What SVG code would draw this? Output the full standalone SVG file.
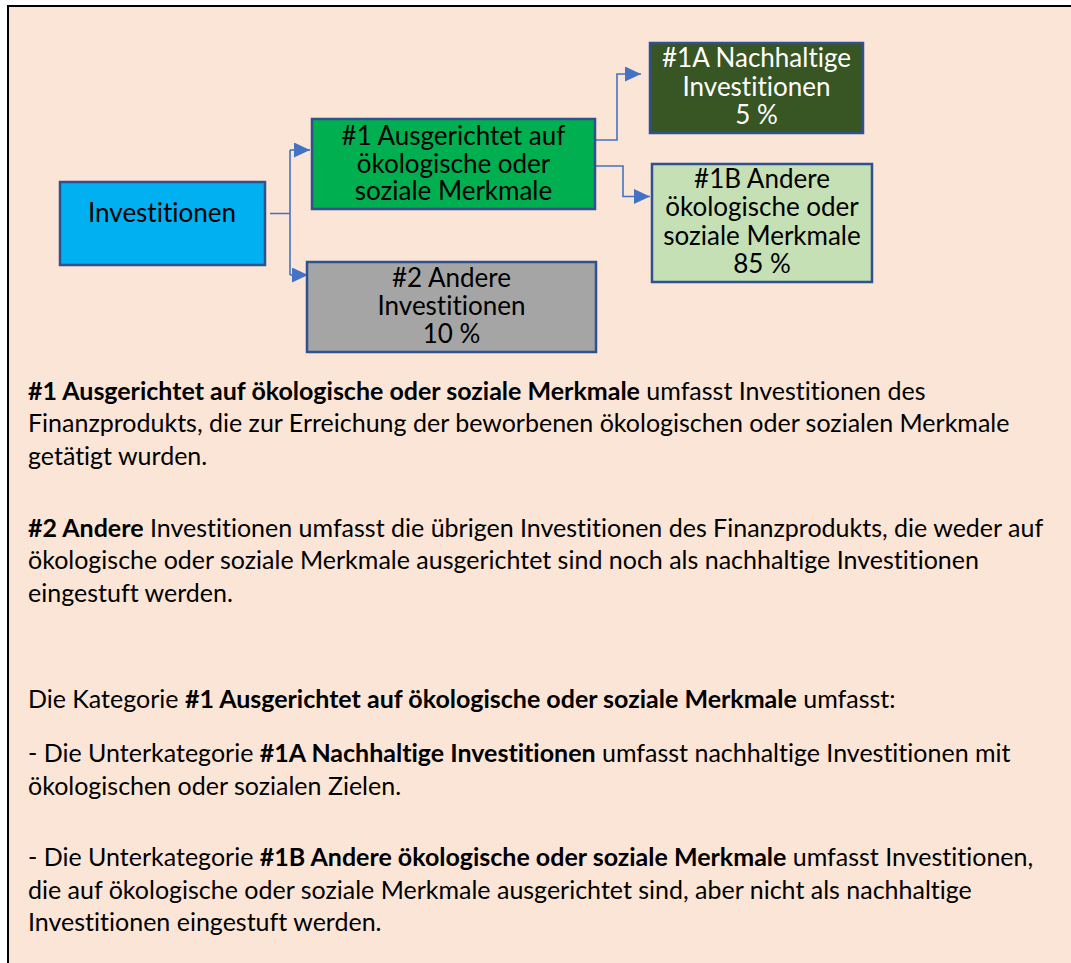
<svg xmlns="http://www.w3.org/2000/svg" width="1071" height="963" viewBox="0 0 1071 963">
<style>
text{font-variant-ligatures:none;font-feature-settings:"liga" 0,"clig" 0}
.box{stroke:#2F528F;stroke-width:2.5}
.bt{font-family:Lato,"Open Sans","Liberation Sans",sans-serif;font-size:26px;text-anchor:middle;fill:#000}
.wt{fill:#fff}
.body{font-family:Lato,"Open Sans","Liberation Sans",sans-serif;font-size:25px;fill:#000}
.b{font-weight:bold}
.conn{fill:none;stroke:#4472C4;stroke-width:1.6}
</style>
<defs>
<marker id="arr" markerUnits="userSpaceOnUse" markerWidth="16" markerHeight="15" refX="16" refY="7.5" orient="auto">
<path d="M0,0 L16,7.5 L0,15 z" fill="#4472C4"/>
</marker>
</defs>
<rect x="8" y="6" width="1080" height="980" fill="#FBE5D6" stroke="#000" stroke-width="2"/>
<g id="connectors">
<path class="conn" d="M270,213.5 H290 M290,150 V275"/>
<path class="conn" d="M290,150 H310" marker-end="url(#arr)"/>
<path class="conn" d="M290,275 H308" marker-end="url(#arr)"/>
<path class="conn" d="M595,140 H617 V74 H641" marker-end="url(#arr)"/>
<path class="conn" d="M595,166 H623 V196.5 H650" marker-end="url(#arr)"/>
</g>
<g id="n-invest">
<rect class="box" x="60" y="182" width="205" height="83" fill="#00B0F0"/>
<text class="bt" x="162" y="222">Investitionen</text>
</g>
<g id="n-1">
<rect class="box" x="312" y="119" width="283" height="90" fill="#00B050"/>
<text class="bt" x="453.5" y="145">#1 Ausgerichtet auf</text>
<text class="bt" x="453.5" y="172.5">ökologische oder</text>
<text class="bt" x="453.5" y="200">soziale Merkmale</text>
</g>
<g id="n-2">
<rect class="box" x="307" y="262" width="289" height="90" fill="#A5A5A5"/>
<text class="bt" x="451.5" y="287">#2 Andere</text>
<text class="bt" x="451.5" y="315">Investitionen</text>
<text class="bt" x="451.5" y="343">10 %</text>
</g>
<g id="n-1a">
<rect class="box" x="650" y="43" width="213" height="90" fill="#375623"/>
<text class="bt wt" x="756.5" y="67">#1A Nachhaltige</text>
<text class="bt wt" x="756.5" y="96">Investitionen</text>
<text class="bt wt" x="756.5" y="124">5 %</text>
</g>
<g id="n-1b">
<rect class="box" x="652" y="164" width="220" height="118" fill="#C5E0B4"/>
<text class="bt" x="762" y="188">#1B Andere</text>
<text class="bt" x="762" y="216">ökologische oder</text>
<text class="bt" x="762" y="245">soziale Merkmale</text>
<text class="bt" x="762" y="273">85 %</text>
</g>
<g id="legend">
<text class="body" x="28" y="400"><tspan class="b">#1 Ausgerichtet auf ökologische oder soziale Merkmale</tspan> umfasst Investitionen des</text>
<text class="body" x="28" y="432">Finanzprodukts, die zur Erreichung der beworbenen ökologischen oder sozialen Merkmale</text>
<text class="body" x="28" y="465">getätigt wurden.</text>
<text class="body" x="28" y="537"><tspan class="b">#2 Andere</tspan> Investitionen umfasst die übrigen Investitionen des Finanzprodukts, die weder auf</text>
<text class="body" x="28" y="569">ökologische oder soziale Merkmale ausgerichtet sind noch als nachhaltige Investitionen</text>
<text class="body" x="28" y="602">eingestuft werden.</text>
<text class="body" x="28" y="708">Die Kategorie <tspan class="b">#1 Ausgerichtet auf ökologische oder soziale Merkmale</tspan> umfasst:</text>
<text class="body" x="28" y="762">- Die Unterkategorie <tspan class="b">#1A Nachhaltige Investitionen</tspan> umfasst nachhaltige Investitionen mit</text>
<text class="body" x="28" y="795">ökologischen oder sozialen Zielen.</text>
<text class="body" x="28" y="866">- Die Unterkategorie <tspan class="b">#1B Andere ökologische oder soziale Merkmale</tspan> umfasst Investitionen,</text>
<text class="body" x="28" y="899">die auf ökologische oder soziale Merkmale ausgerichtet sind, aber nicht als nachhaltige</text>
<text class="body" x="28" y="931">Investitionen eingestuft werden.</text>
</g>
</svg>
